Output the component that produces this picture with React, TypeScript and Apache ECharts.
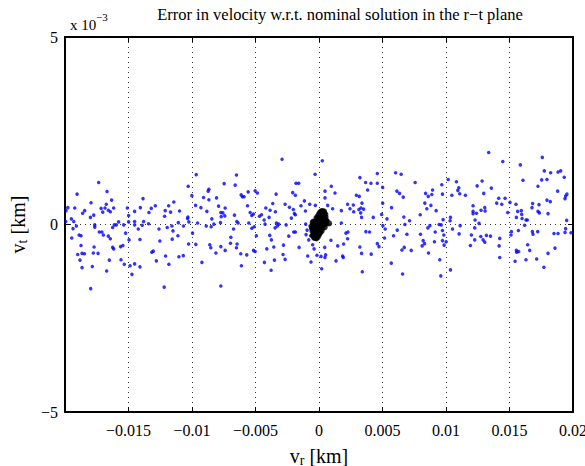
import React, { useEffect, useRef } from "react";
import * as echarts from "echarts";

// v_r in units of 1e-3 km, v_t in units of 1e-3 km
const bluePoints: number[][] = [
  [-19.78,0.45],[-19.92,0.37],[-19.05,0.81],[-19.23,0.44],[-17.35,1.12],[-16.69,0.88],[-16.33,0.65],[-17.95,0.58],[-19.94,0.08],[-19.5,0.15],
  [-19.31,0.08],[-19.1,-0.04],[-19.37,-0.11],[-19.47,-0.36],[-18.89,-0.28],[-18.74,-0.3],[-18.74,-0.56],[-19.0,-0.8],[-18.66,-0.77],[-18.47,-0.78],
  [-18.82,-0.95],[-18.66,-1.15],[-17.85,-1.12],[-17.98,-1.71],[-17.77,-0.76],[-17.71,-0.6],[-17.4,-0.77],[-18.61,0.3],[-18.45,0.37],[-18.0,0.19],
  [-17.74,0.25],[-17.66,-0.01],[-17.66,-0.07],[-17.3,-0.2],[-17.09,-0.2],[-16.98,-0.28],[-17.16,0.43],[-17.03,0.33],[-16.85,0.44],[-16.75,0.54],
  [-16.59,0.38],[-16.43,0.34],[-16.17,0.44],[-16.25,-0.08],[-16.12,-0.01],[-15.96,-0.01],[-15.78,0.07],[-15.38,-0.01],[-16.59,-0.31],[-16.43,-0.38],
  [-16.25,-0.61],[-16.17,-0.65],[-15.62,-0.59],[-15.44,-0.56],[-16.51,-0.95],[-16.72,-1.24],[-15.59,-0.94],[-15.33,-1.06],[-15.23,-0.23],[-15.09,0.44],
  [-14.99,0.24],[-14.99,0.07],[-14.96,-0.41],[-14.88,-1.1],[-14.73,-1.33],[-14.52,-1.05],[-14.52,0.35],[-14.52,0.08],[-14.52,-0.01],[-14.23,-0.12],
  [-14.07,0.45],[-13.86,0.69],[-13.81,0.08],[-13.92,-0.02],[-14.1,-0.4],[-14.1,-1.13],[-13.39,0.32],[-13.42,0.02],[-13.21,0.43],[-12.89,0.5],
  [-12.6,-0.12],[-12.53,-0.44],[-13.16,-0.74],[-13.05,-0.71],[-12.81,-0.97],[-12.19,-1.67],[-12.08,-0.84],[-11.82,-1.06],[-12.16,0.22],[-12.11,0.37],
  [-11.84,0.5],[-11.69,0.33],[-11.95,-0.08],[-11.58,-0.04],[-11.43,0.6],[-11.5,-0.17],[-11.56,-0.39],[-11.11,-0.3],[-11.08,0.05],[-10.98,0.36],
  [-11.03,-0.86],[-10.69,-0.83],[-10.67,-0.04],[-10.35,0.16],[-10.32,0.2],[-10.25,0.07],[-10.3,1.02],[-10.01,0.77],[-10.27,-0.52],[-9.96,-0.23],
  [-9.67,1.33],[-9.72,0.51],[-9.3,0.45],[-9.09,0.72],[-8.73,0.89],[-8.67,0.94],[-8.67,0.66],[-8.83,0.35],[-9.56,0.04],[-9.7,-0.53],
  [-9.22,-1.01],[-8.88,-0.04],[-8.44,0.15],[-8.49,-0.06],[-8.28,0.01],[-8.07,0.71],[-7.91,0.49],[-7.73,0.32],[-7.7,0.21],[-7.57,0.31],
  [-7.42,0.23],[-7.39,0.44],[-7.47,1.09],[-7.76,0.05],[-8.6,-0.54],[-8.52,-0.62],[-8.12,-0.76],[-7.73,-0.59],[-7.39,-0.69],[-6.94,-0.34],
  [-6.73,-0.12],[-6.66,0.25],[-6.47,0.08],[-6.37,0.04],[-6.97,-0.5],[-6.45,-0.52],[-6.5,-0.62],[-6.16,-0.78],[-6.11,-1.1],[-7.73,-1.64],
  [-6.6,1.05],[-6.5,1.32],[-6.13,0.79],[-6.03,0.74],[-5.9,0.74],[-5.58,0.87],[-5.63,0.5],[-5.42,0.32],[-5.29,0.24],[-5.16,0.28],
  [-5.53,0.04],[-5.29,-0.1],[-5.11,-0.06],[-5.16,-0.69],[-5.03,-0.72],[-5.69,-0.81],[-4.93,-0.3],[-5.03,0.9],[-4.85,0.84],[-4.69,0.22],
  [-4.53,0.26],[-4.19,0.44],[-4.32,0.12],[-4.25,0.01],[-3.93,0.19],[-3.85,0.38],[-3.43,0.34],[-3.64,0.56],[-3.38,0.81],[-3.88,-0.29],
  [-3.75,-0.41],[-3.56,-0.6],[-4.11,-0.65],[-3.51,-0.95],[-3.77,-1.22],[-4.3,-1.01],[-3.35,0.04],[-3.28,-0.04],[-3.46,-0.09],[-3.17,0.01],
  [-2.91,1.74],[-2.67,0.54],[-2.59,-0.01],[-2.33,0.46],[-2.07,0.85],[-1.86,0.78],[-1.81,1.1],[-1.6,1.1],[-2.02,0.4],[-1.94,0.29],
  [-1.86,0.26],[-2.18,0.17],[-1.99,-0.2],[-1.86,-0.2],[-2.38,-0.31],[-2.8,-0.55],[-2.83,-0.8],[-2.67,-0.93],[-1.57,-0.61],[-1.42,0.5],
  [-1.15,0.63],[-1.07,0.36],[-0.73,0.54],[-1.05,0.01],[-0.94,-0.15],[-1.02,-0.27],[-0.81,-0.41],[-0.66,-0.3],[-0.5,-0.54],[-0.39,-0.65],
  [-0.89,-0.84],[-0.63,-1.0],[-0.16,-0.82],[-0.29,0.51],[-0.31,1.34],[0.26,1.7],[0.16,-0.85],[0.21,-1.18],
  [0.47,0.89],[0.47,0.71],[0.68,0.51],[0.97,1.02],[1.26,0.84],[1.07,0.42],[0.94,-0.42],[0.45,-0.61],[0.47,-0.88],[0.52,-0.81],
  [1.34,-0.97],[1.47,-0.57],[1.76,0.37],[1.76,0.04],[1.94,-0.52],[1.86,-0.84],[1.91,-0.88],[2.12,-0.23],[2.28,-0.2],[2.25,-0.38],
  [2.25,0.54],[2.44,0.42],[2.7,0.52],[2.73,0.34],[2.94,0.78],[3.17,0.75],[3.22,1.25],[3.14,0.4],[3.3,0.44],[3.38,0.57],
  [3.51,0.41],[3.28,0.31],[3.35,0.19],[3.22,-0.6],[3.35,-0.77],[3.41,-1.26],[3.67,1.12],[3.83,0.92],[4.09,1.1],[3.69,-0.19],
  [3.98,-0.2],[4.11,-0.79],[4.27,0.19],[4.59,1.1],[4.59,1.36],[5.01,0.99],[5.01,0.57],[4.93,0.27],[5.03,-0.03],[5.21,-0.12],
  [5.16,-0.36],[4.59,-0.51],[4.72,-0.59],[5.35,0.15],[5.71,0.45],[5.69,-1.03],[5.87,-0.3],[6.03,1.38],[6.47,1.34],[6.13,0.89],
  [6.34,0.83],[6.63,0.73],[6.68,0.2],[6.76,0.0],[6.16,-0.15],[6.58,-1.32],[6.53,-0.68],[6.71,-0.61],[6.92,-0.26],[7.13,0.1],
  [7.26,-0.69],[7.57,1.12],[7.97,0.26],[7.99,-0.26],[8.12,-0.57],[8.2,-0.43],[8.31,-0.51],[8.33,0.57],[8.39,0.83],[8.6,0.75],
  [8.49,0.42],[8.81,0.51],[8.88,0.8],[8.94,0.92],[8.62,-0.76],[8.57,-0.09],[8.73,-0.03],[9.22,0.37],[9.15,-0.2],[9.09,-0.46],
  [9.46,0.0],[9.62,-0.01],[9.72,-0.43],[9.72,-0.16],[9.72,0.81],[9.67,1.06],[9.83,-0.28],[9.85,-0.55],[9.77,0.13],[9.51,-0.94],
  [9.59,-1.37],[10.17,1.2],[10.46,0.78],[10.35,0.19],[10.32,0.1],[10.51,-0.12],[10.35,-1.21],[10.01,-0.46],
  [10.82,1.14],[11.01,0.98],[10.93,0.91],[11.08,0.82],[11.53,0.78],[11.03,-0.25],[11.11,-0.03],[12.13,0.5],[12.13,0.35],[12.13,0.29],
  [12.4,0.3],[12.29,0.12],[12.26,-0.09],[12.6,0.03],[12.45,1.03],[12.84,1.16],[12.97,0.83],[12.76,0.38],[13.05,0.45],[13.08,0.36],
  [12.0,-0.28],[11.92,-0.56],[12.26,-0.41],[12.74,-0.32],[12.92,-0.41],[13.05,-0.47],[13.18,-0.29],[13.5,-0.31],[13.36,1.92],[13.57,0.97],
  [13.99,0.57],[14.15,0.7],[14.39,0.54],[14.65,0.7],[14.47,1.68],[14.23,-0.37],[14.18,-0.57],[14.23,-0.88],[14.86,0.32],[15.04,0.59],
  [15.15,-0.19],[15.12,-0.28],[15.51,0.54],[15.54,0.19],[15.64,0.35],[15.7,-0.16],[15.93,0.37],[15.96,0.27],[15.99,0.16],[16.3,0.12],
  [16.4,0.12],[16.19,-0.02],[15.85,1.59],[16.06,1.18],[15.54,-0.69],[15.57,-0.74],[15.72,-0.72],[15.44,-0.98],[16.43,-0.54],[16.59,-0.69],
  [16.3,-0.94],[16.77,0.45],[16.82,0.56],[16.8,-0.19],[16.85,-0.26],[17.24,1.02],[17.24,0.35],[17.35,0.31],[17.32,0.53],[17.22,-0.19],
  [17.14,-0.92],[17.58,1.79],[17.53,1.19],[17.74,1.43],[17.95,1.2],[18.24,1.38],[17.95,0.65],[18.21,0.61],[18.03,0.29],[18.03,-0.77],
  [17.71,-1.14],[18.5,-0.24],[18.58,-0.63],[18.79,0.89],[18.82,-0.24],[18.82,1.4],[19.03,1.43],[19.31,1.26],[19.37,0.69],[19.42,0.76],
  [19.52,0.81],[19.5,0.11],[19.42,-0.11],[19.37,-0.21],[19.84,-0.22]
];

// dense cluster around the nominal solution (black)
const blackPoints: number[][] = [
  [0,0],[0.1,0.05],[-0.1,-0.05],[0.2,0.1],[-0.2,-0.1],[0.3,0.16],[-0.3,-0.16],[0.4,0.22],[-0.4,-0.22],[0.42,0.3],[-0.45,-0.27],
  [0.2,0],[-0.2,0],[0.35,0.05],[-0.35,-0.05],[0.5,0.13],[-0.5,-0.13],[0.1,0.18],[-0.1,-0.18],[0,0.1],[0,-0.1],[0.25,0.27],[-0.25,-0.27],
  [0.3,0.05],[-0.3,-0.05],[0.4,0.1],[-0.4,-0.1],[0.15,-0.08],[-0.15,0.08],[0.35,-0.02],[-0.35,0.02],[0.52,0.2],[-0.52,-0.18],
  [0.15,0.31],[-0.15,-0.31],[0.33,0.3],[-0.33,-0.32],[0.05,0.26],[-0.05,-0.26],[0.5,0.05],[-0.5,-0.05],[0.25,-0.1],[-0.25,0.1],
  [0.28,0.35],[-0.3,-0.36],[0.45,0.0],[-0.45,-0.02],[0.6,0.1],[-0.55,-0.1],[0.2,0.36],[-0.2,-0.37],[0.1,0.33],[-0.1,-0.34],[0.6,0.02],
  [-0.5,0.05],[0.8,0.03],[0.05,-0.15],[-0.05,0.15],[0.3,0.23],[-0.3,-0.23],[0.4,0.35],[-0.4,-0.35],[0.5,0.27],[-0.48,-0.3],
  [0.15,0.15],[-0.15,-0.15],[0.4,0.18],[-0.4,-0.18],[0.1,-0.22],[-0.1,0.22],[0.55,0.1],[-0.6,-0.05],[0.25,0.13],[-0.25,-0.13],
  [0.0,0.28],[0.0,-0.28],[0.2,-0.18],[-0.2,0.18],[0.45,-0.08],[-0.45,0.08],[0.35,0.15],[-0.35,-0.15],[0.08,0.08],[-0.08,-0.08]
];

const xTicks = [-20, -15, -10, -5, 0, 5, 10, 15, 20];
const yTicks = [-5, 0, 5];
const titleText = "Error in velocity w.r.t. nominal solution in the r\u2212t plane";

const FONT = "Liberation Serif";

function fmtX(v: number): string {
  if (v === xTicks[0]) return "";
  if (v === 0) return "0";
  const s = String(Math.round(v) / 1000);
  return s.replace("-", "\u2212");
}
function fmtY(v: number): string {
  return String(v).replace("-", "\u2212");
}

export default function App() {
  const ref = useRef<HTMLDivElement>(null);
  useEffect(() => {
    if (!ref.current) return;
    const chart = echarts.init(ref.current, null, { renderer: "svg" });
    const boxLine = { show: true, onZero: false, lineStyle: { color: "#000", width: 2 } };
    const tick = { show: true, inside: true, length: 5, lineStyle: { color: "#000", width: 1 } };
    const dotted = { show: true, lineStyle: { color: "#333", width: 1, type: [1, 4] as any } };
    chart.setOption({
      animation: false,
      backgroundColor: "#fff",
      textStyle: { fontFamily: FONT },
      grid: { left: 65, right: 12, top: 37, bottom: 54, containLabel: false, outerBoundsMode: "none" },
      xAxis: [
        {
          type: "value", min: xTicks[0], max: xTicks[xTicks.length - 1], interval: 5,
          axisLine: boxLine, axisTick: tick, splitLine: dotted,
          axisLabel: { formatter: fmtX, fontSize: 16, color: "#000", fontFamily: FONT, margin: 10 },
          name: "{i|v}{s|r}{i| [km]}", nameLocation: "middle", nameGap: 33,
          nameTextStyle: {
            rich: {
              i: { fontSize: 20, fontFamily: FONT, color: "#000" },
              s: { fontSize: 14, fontFamily: FONT, color: "#000", verticalAlign: "bottom", padding: [8, 0, 0, 0] },
            },
          },
        },
        {
          type: "value", position: "top", min: xTicks[0], max: xTicks[xTicks.length - 1], interval: 5,
          axisLine: boxLine, axisTick: tick, splitLine: { show: false }, axisLabel: { show: false },
        },
      ],
      yAxis: [
        {
          type: "value", min: yTicks[0], max: yTicks[yTicks.length - 1], interval: 5,
          axisLine: boxLine, axisTick: tick, splitLine: dotted,
          axisLabel: { formatter: fmtY, fontSize: 16, color: "#000", fontFamily: FONT, margin: 7 },
          name: "{i|v}{s|t}{i| [km]}", nameLocation: "middle", nameGap: 36, nameRotate: 90,
          nameTextStyle: {
            rich: {
              i: { fontSize: 20, fontFamily: FONT, color: "#000" },
              s: { fontSize: 14, fontFamily: FONT, color: "#000", verticalAlign: "bottom", padding: [8, 0, 0, 0] },
            },
          },
        },
        {
          type: "value", position: "right", min: yTicks[0], max: yTicks[yTicks.length - 1], interval: 5,
          axisLine: boxLine, axisTick: tick, splitLine: { show: false }, axisLabel: { show: false },
        },
      ],
      graphic: [
        {
          type: "text", x: 340, y: 14,
          style: { text: titleText, font: `16.5px "${FONT}"`, fill: "#000", textAlign: "center", textVerticalAlign: "middle", align: "center", verticalAlign: "middle" },
        },
        {
          type: "text", x: 70, y: 25,
          style: { text: "x 10", font: `15px "${FONT}"`, fill: "#000", textAlign: "left", textVerticalAlign: "middle", align: "left", verticalAlign: "middle" },
        },
        {
          type: "text", x: 96, y: 17,
          style: { text: "\u22123", font: `11px "${FONT}"`, fill: "#000", textAlign: "left", textVerticalAlign: "middle", align: "left", verticalAlign: "middle" },
        },
      ],
      series: [
        {
          type: "scatter", xAxisIndex: 0, yAxisIndex: 0, data: bluePoints,
          symbol: "circle", symbolSize: 3.5, itemStyle: { color: "#0000ff" }, silent: true,
        },
        {
          type: "scatter", xAxisIndex: 0, yAxisIndex: 0, data: blackPoints,
          symbol: "circle", symbolSize: 6, itemStyle: { color: "#000" }, silent: true,
        },
      ],
    });
    return () => chart.dispose();
  }, []);
  return <div ref={ref} style={{ position: "fixed", left: 0, top: 0, width: 585, height: 466 }} />;
}
